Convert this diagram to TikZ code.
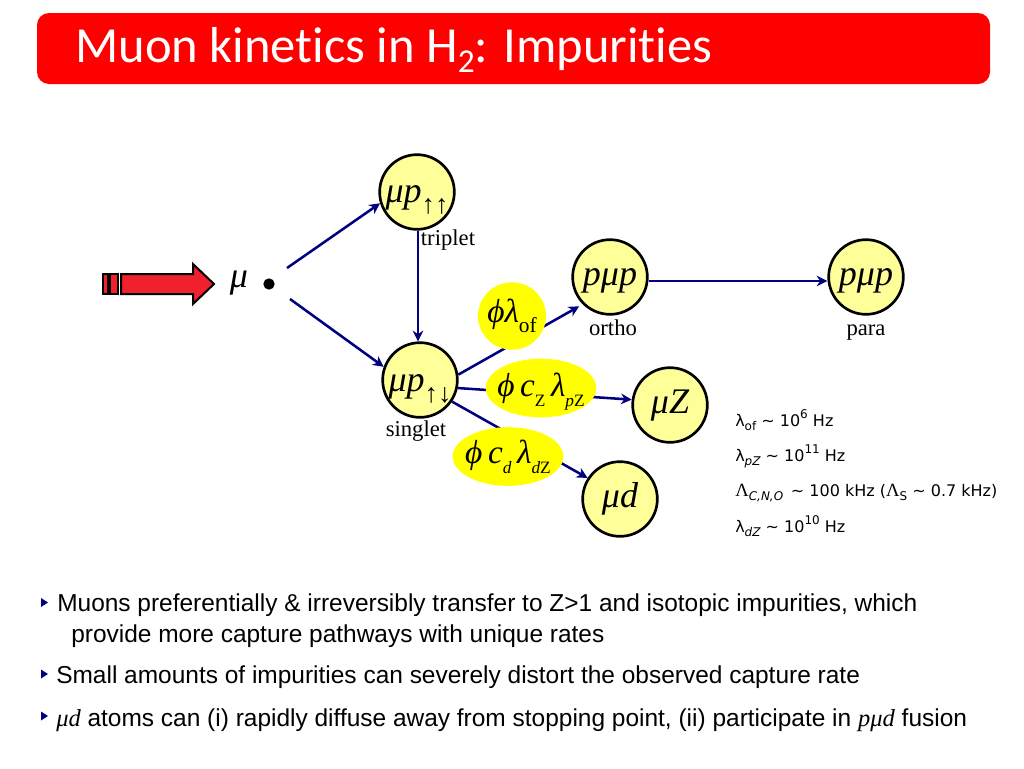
\documentclass[tikz,border=0pt]{standalone}
\usepackage{fontspec}
\setmainfont{Liberation Sans}
\newfontfamily\titlefont[Ligatures=NoCommon]{Carlito}
\newfontfamily\serifgr{Liberation Serif}
\newfontfamily\notefont{DejaVu Sans}
\usetikzlibrary{arrows.meta,shapes.geometric}
\definecolor{linkblue}{RGB}{0,0,128}
\definecolor{pale}{RGB}{255,255,153}
\definecolor{hi}{RGB}{255,255,0}
\definecolor{arrowred}{RGB}{240,32,44}
\definecolor{barred}{RGB}{255,0,0}
\newcommand{\fs}[2]{\fontsize{#1}{#2}\selectfont}
\newcommand{\mi}[1]{{\serifgr\itshape #1}}
\newcommand{\sbx}[1]{\raisebox{-0.3em}{#1}}
\newcommand{\lowr}[2]{\makebox[0pt][c]{\raisebox{-#1pt}[0pt][0pt]{#2}}}
\tikzset{
  state/.style={circle,draw=black,line width=2pt,fill=pale,minimum size=56pt,inner sep=0pt,font=\serifgr\itshape\fontsize{27}{27}\selectfont},
  rate/.style={ellipse,fill=hi,inner sep=0pt,font=\serifgr\itshape\fontsize{25}{25}\selectfont},
  link/.style={draw=linkblue,line width=1.9pt,-{Stealth[length=8pt,width=8pt]}},
  capt/.style={anchor=base,font=\serifgr\fontsize{17}{18}\selectfont,inner sep=0pt},
  notetext/.style={anchor=base west,inner sep=0pt,font=\notefont\fontsize{12}{14}\selectfont},
  bul/.style={anchor=base west,inner sep=0pt,font=\fontsize{18.35}{22}\selectfont}
}
\begin{document}
\begin{tikzpicture}[x=0.75pt,y=-0.75pt]
\useasboundingbox (0,0) rectangle (1024,768);
\fill[white] (0,0) rectangle (1024,768);
% title
\fill[barred,rounded corners=9pt] (37,13) rectangle (990,84);
\node[anchor=base west,inner sep=0,text=white,font=\titlefont\fontsize{37.9}{40}\selectfont] (title) at (75,62) {Muon kinetics in H\raisebox{-0.2em}{\fontsize{25}{25}\selectfont 2}: Impurities};
% beam arrow
\filldraw[fill=arrowred,draw=black,line width=1.5pt] (103,274) rectangle (108,294);
\filldraw[fill=arrowred,draw=black,line width=1.5pt] (110,274) rectangle (118,294);
\filldraw[fill=arrowred,draw=black,line width=1.5pt] (121,274) -- (193,274) -- (193,264) -- (214,284) -- (193,304) -- (193,294) -- (121,294) -- cycle;
\node[inner sep=0,font=\serifgr\itshape\fontsize{27}{27}\selectfont] (mu) at (239,283) {μ};
\node[circle,fill=black,minimum size=8.5pt,inner sep=0pt] (dot) at (269,284) {};
\coordinate (src1) at (287,268);
\coordinate (src2) at (290,299);
\coordinate (axis) at (418,0);
\coordinate (lev) at (0,281);
% states
\node[state] (trip) at (417,192) {\lowr{8}{μp\sbx{\serifgr\upshape\fs{20}{20}↑↑}}};
\node[state] (sing) at (420,380) {\lowr{8.5}{μp\sbx{\serifgr\upshape\fs{20}{20}↑↓}}};
\node[state] (ortho) at (610,277) {\lowr{6}{pμp}};
\node[state] (para) at (866,277) {\lowr{6}{pμp}};
\node[state] (muz) at (670,405) {\lowr{6.5}{μZ}};
\node[state] (mud) at (620,499) {\lowr{6.5}{μd}};
% connectors
\draw[link] (src1) -- (trip.197);
\draw[link] (src2) -- (sing.160);
\draw[link] (trip.south -| axis) -- (sing.north -| axis);
\draw[link] (ortho.east |- lev) -- (para.west |- lev);
\draw[link,shorten >=3pt] (sing.8) -- (ortho.225);
\draw[link] (sing.348) -- (muz.172);
\draw[link] (sing.326) -- (mud.147);
% rates
\node[rate,minimum width=51pt,minimum height=50.5pt] (r1) at (512,316) {\lowr{5}{ϕλ\raisebox{-0.3em}{\upshape\fs{16}{16}of}}};
\node[rate,minimum width=83pt,minimum height=44pt] (r2) at (541,388) {\lowr{6}{ϕ\,c\raisebox{-0.3em}{\fs{13}{13}\upshape Z}\,λ\raisebox{-0.3em}{\fs{13}{13}p\upshape Z}}};
\node[rate,minimum width=83pt,minimum height=44pt] (r3) at (508,456.5) {\lowr{5}{ϕ\,c\raisebox{-0.3em}{\fs{13}{13}d}\,λ\raisebox{-0.3em}{\fs{13}{13}d\upshape Z}}};
% captions
\node[capt] (ltrip) at (448,245) {triplet};
\node[capt] (lsing) at (416,436) {singlet};
\node[capt] (lortho) at (613,335) {ortho};
\node[capt] (lpara) at (866,335) {para};
% notes
\node[notetext] (n1) at (735,426) {λ\raisebox{-0.25em}{\fs{9}{9}of} \textasciitilde{} 10\raisebox{0.45em}{\fs{9}{9}6} Hz};
\node[notetext] (n2) at (735,461) {λ\raisebox{-0.25em}{\fs{9}{9}\itshape pZ} \textasciitilde{} 10\raisebox{0.45em}{\fs{9}{9}11} Hz};
\node[notetext] (n3) at (735,496) {{\serifgr\fs{14}{14}Λ}\raisebox{-0.25em}{\fs{9}{9}\itshape C,N,O} \,\textasciitilde{} 100 kHz ({\serifgr\fs{14}{14}Λ}\raisebox{-0.25em}{\fs{9}{9}S} \textasciitilde{} 0.7 kHz)};
\node[notetext] (n4) at (735,532) {λ\raisebox{-0.25em}{\fs{9}{9}\itshape dZ} \textasciitilde{} 10\raisebox{0.45em}{\fs{9}{9}10} Hz};
% bullets
\foreach \yy in {602.5,674,716}{
  \fill[linkblue] (41,\yy-4.5) -- (48,\yy) -- (41,\yy+4.5) -- cycle;
}
\node[bul] (b1) at (57,611) {Muons preferentially \& irreversibly transfer to Z>1 and isotopic impurities, which};
\node[bul] (b2) at (71,642) {provide more capture pathways with unique rates};
\node[bul] (b3) at (56,683) {Small amounts of impurities can severely distort the observed capture rate};
\node[bul] (b4) at (56,726) {\mi{μd} atoms can (i) rapidly diffuse away from stopping point, (ii) participate in \mi{pμd} fusion};
\end{tikzpicture}
\end{document}
